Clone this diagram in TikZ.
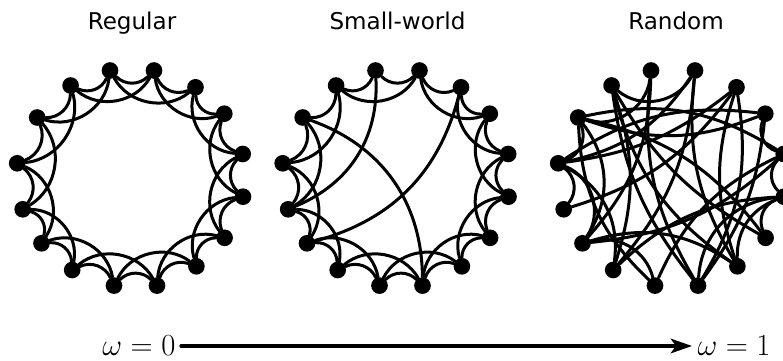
\RequirePackage{fix-cm}
\documentclass[tikz,border=0pt]{standalone}
\usepackage{fontspec}
\newfontfamily\titlefont{DejaVu Sans}
\usetikzlibrary{arrows.meta}

% ring positions in pixels, the same for all three graphs
\newcommand{\ringpts}{0/110/70.5, 1/154/70.5, 2/195.5/87.3, 3/224.3/113.7,
  4/242.7/154, 5/243/196.7, 6/224.6/237.8, 7/196.4/266.3, 8/157/285.6,
  9/114/285.6, 10/72.2/270, 11/41.5/243.3, 12/22.7/209.3, 13/17.2/163.3,
  14/37.2/117.5, 15/70.6/85.5}

\begin{document}
\begin{tikzpicture}[
  x=0.75pt, y=-0.75pt,
  line cap=round,
  line join=round,
  dot/.style={circle, fill=black, inner sep=0pt, minimum size=12.5pt},
  link/.style={draw=black, line width=2.25pt},
  heading/.style={font=\titlefont\fontsize{17.3}{21}\selectfont, anchor=base},
  wlabel/.style={font=\fontsize{23}{27}\selectfont, inner sep=4pt},
  flow/.style={-{Stealth[length=16pt,width=11pt,inset=4pt]}, line width=2.4pt}
]
\useasboundingbox (0,0) rectangle (783,361);

% Panel A: ring lattice, two neighbours on each side
\begin{scope}
  \node[heading] (tA) at (132,29) {Regular};
  \foreach \i/\x/\y in \ringpts { \node[dot] (reg\i) at (\x,\y) {}; }
  \foreach \i in {0,...,15}{
    \pgfmathtruncatemacro{\j}{mod(\i+1,16)}
    \pgfmathtruncatemacro{\k}{mod(\i+2,16)}
    \draw[link] (reg\i) to[bend right=45] (reg\j);
    \draw[link] (reg\i) to[bend right=50] (reg\k);
  }
\end{scope}

% Panel B: same lattice with a few shortcuts rewired
\begin{scope}[shift={(265.5,0)}]
  \node[heading] (tB) at (132,29) {Small-world};
  \foreach \i/\x/\y in \ringpts { \node[dot] (sw\i) at (\x,\y) {}; }
  \foreach \i in {0,...,15}{
    \pgfmathtruncatemacro{\j}{mod(\i+1,16)}
    \draw[link] (sw\i) to[bend right=45] (sw\j);
  }
  \foreach \i in {1,...,13,15}{
    \pgfmathtruncatemacro{\k}{mod(\i+2,16)}
    \draw[link] (sw\i) to[bend right=50] (sw\k);
  }
  \draw[link] (sw0) to[bend left=35] (sw12);
  \draw[link] (sw14) to[bend left=35] (sw8);
  \draw[link] (sw2) to[bend left=30] (sw11);
\end{scope}

% Panel C: random wiring on the same ring
\begin{scope}[shift={(541,0)}]
  \node[heading] (tC) at (135,29) {Random};
  \foreach \i/\x/\y in \ringpts { \node[dot] (rnd\i) at (\x,\y) {}; }
  \foreach \a/\b/\t in {0/8/-18, 0/11/20, 0/14/50, 1/15/50, 1/13/22, 1/7/-18,
    1/10/18, 2/8/20, 2/7/-18, 2/12/18, 2/13/15, 3/4/-45, 3/14/20, 3/13/-20,
    3/8/15, 4/5/-45, 4/14/-22, 4/11/18, 4/9/-20, 5/6/-45, 5/7/-35, 5/8/-40,
    5/10/-20, 6/15/15, 6/14/-20, 7/15/20, 7/11/-25, 8/15/15, 9/11/-45,
    9/14/22, 10/13/-35, 10/15/-18, 11/13/-50, 11/14/-35, 12/13/-45,
    13/14/-45}{
    \draw[link] (rnd\a) to[bend left=\t] (rnd\b);
  }
\end{scope}

% omega scale along the bottom
\node[wlabel, anchor=east] (w0) at (181,346) {$\omega=0$};
\node[wlabel, anchor=west] (w1) at (692,346) {$\omega=1$};
\draw[flow] (w0) -- (w1);
\end{tikzpicture}
\end{document}
